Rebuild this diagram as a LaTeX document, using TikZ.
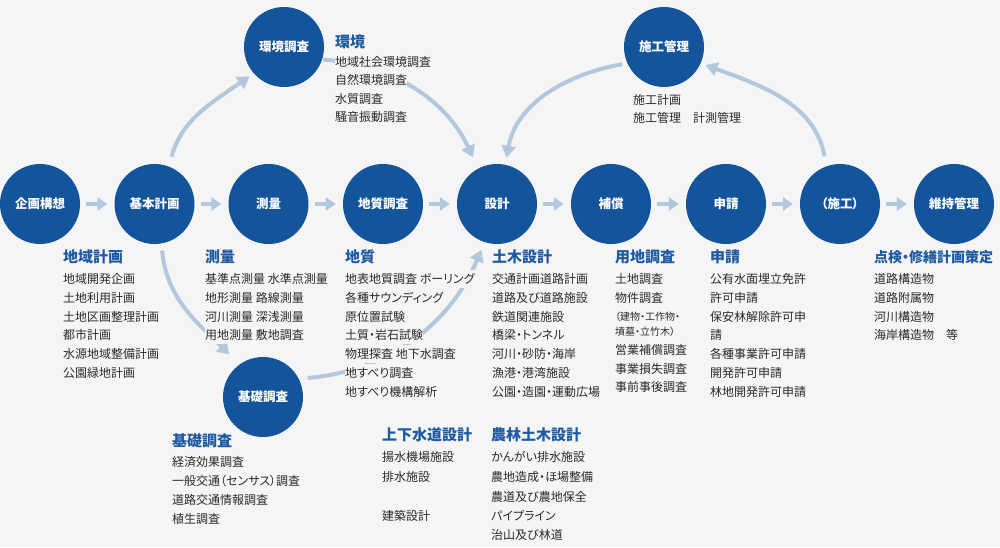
\documentclass[tikz,border=0pt]{standalone}
\usepackage{fontspec}
\setmainfont{Noto Sans CJK JP}[RawFeature=+palt]
\usetikzlibrary{arrows.meta}
\definecolor{bg}{HTML}{F5F5F5}
\definecolor{circc}{HTML}{14549A}
\definecolor{headc}{HTML}{1E5AA2}
\definecolor{bodyc}{HTML}{2A2A2A}
\definecolor{arrc}{HTML}{B3C8DD}
\tikzset{
  stage/.style={circle, fill=circc, minimum size=80pt, inner sep=0pt, text=white,
    font=\fontsize{12.5}{14}\selectfont\bfseries},
  head/.style={anchor=west, inner sep=0pt, text=headc,
    font=\fontsize{15}{18}\selectfont\bfseries, text height=13.2pt, text depth=1.8pt},
  body/.style={anchor=west, inner sep=0pt, text=bodyc, fill=bg,
    font=\fontsize{12}{14}\selectfont, text height=13.5pt, text depth=4.5pt},
  smallbody/.style={body, font=\fontsize{10}{12}\selectfont, text height=8.8pt, text depth=1.2pt},
  harrow/.style={draw=arrc, line width=4pt, -{Triangle[length=10pt,width=13pt]},
    shorten <=6pt, shorten >=7pt},
  carrow/.style={draw=arrc, line width=4pt, -{Triangle[length=12pt,width=14pt]}},
}
\newcommand\bodylines[3]{%
  \foreach \txt/\yy [count=\i] in {#3} {\node[body] (#1\i) at (#2,\yy) {\txt};}}
\begin{document}
\begin{tikzpicture}[x=1pt,y=1pt]
\useasboundingbox (0,0) rectangle (1000,547);
\fill[bg] (0,0) rectangle (1000,547);

% stages
\node[stage] (kikaku)    at (40,343)    {企画構想};
\node[stage] (kihon)     at (154.5,343) {基本計画};
\node[stage] (sokuryo)   at (268.5,343) {測量};
\node[stage] (chishitsu) at (383,343)   {地質調査};
\node[stage] (sekkei)    at (497,343)   {設計};
\node[stage] (hosho)     at (611,343)   {補償};
\node[stage] (shinsei)   at (726,343)   {申請};
\node[stage] (seko)      at (840,343)   {（施工）};
\node[stage] (iji)       at (954,343)   {維持管理};
\node[stage] (kankyo)    at (284,500)   {環境調査};
\node[stage] (sk)        at (664,500)   {施工管理};
\node[stage] (kiso)      at (263,150)   {基礎調査};

% connectors (drawn under the circles)
\begin{scope}[on background layer/.try]
\end{scope}
\draw[harrow] (kikaku) -- (kihon);
\draw[harrow] (kihon) -- (sokuryo);
\draw[harrow] (sokuryo) -- (chishitsu);
\draw[harrow] (chishitsu) -- (sekkei);
\draw[harrow] (sekkei) -- (hosho);
\draw[harrow] (hosho) -- (shinsei);
\draw[harrow] (shinsei) -- (seko);
\draw[harrow] (seko) -- (iji);

\draw[carrow, shorten <=10pt, shorten >=5pt] (kihon.69) to[out=75,in=215] (kankyo.221);
\draw[carrow, shorten <=1pt, shorten >=12pt] (kankyo.-18) to[out=-5,in=115] (sekkei.118);
\draw[carrow, shorten <=5pt, shorten >=7pt] (sk.204) to[out=190,in=80] (sekkei.78);
\draw[carrow, shorten <=10pt, shorten >=5pt] (seko.110) to[out=100,in=-20] (sk.-24);
\draw[carrow, shorten <=7pt, shorten >=14pt] (kihon.-80) to[out=-85,in=135] (kiso.126);
\draw[carrow, shorten <=9pt, shorten >=8pt] (kiso.27) to[out=5,in=247] (sekkei.252);

% headings
\node[head] (h1)  at (63,290)  {地域計画};
\node[head] (h2)  at (205,290) {測量};
\node[head] (h3)  at (345,290) {地質};
\node[head] (h4)  at (492,290) {土木設計};
\node[head] (h5)  at (615,290) {用地調査};
\node[head] (h6)  at (710,290) {申請};
\node[head, font=\fontsize{14}{16}\selectfont\bfseries] (h7) at (874,290) {点検・修繕計画策定};
\node[head] (h8)  at (335,505) {環境};
\node[head] (h9)  at (172,106) {基礎調査};
\node[head] (h10) at (382,112) {上下水道設計};
\node[head] (h11) at (491,112) {農林土木設計};

% bodies
\bodylines{a}{63}{地域開発企画/268, 土地利用計画/249.2, 土地区画整理計画/230.4, 都市計画/211.6, 水源地域整備計画/192.8, 公園緑地計画/174}
\bodylines{b}{205}{基準点測量 水準点測量/268, 地形測量 路線測量/249.2, 河川測量 深浅測量/230.4, 用地測量 敷地調査/211.6}
\bodylines{c}{345}{地表地質調査 ボーリング/268, 各種サウンディング/249.2, 原位置試験/230.4, 土質・岩石試験/211.6, 物理探査 地下水調査/192.8, 地すべり調査/174, 地すべり機構解析/155.2}
\bodylines{d}{492}{交通計画道路計画/268, 道路及び道路施設/249.2, 鉄道関連施設/230.4, 橋梁・トンネル/211.6, 河川・砂防・海岸/192.8, 漁港・港湾施設/174, 公園・造園・運動広場/155.2}
\bodylines{e}{615}{土地調査/268, 物件調査/249.2, 営業補償調査/197, 事業損失調査/178.5, 事前事後調査/160}
\node[smallbody] (es1) at (615,230) {（建物・工作物・};
\node[smallbody] (es2) at (615,215) {墳墓・立竹木）};
\bodylines{f}{710}{公有水面埋立免許/268, 許可申請/249.2, 保安林解除許可申/230.4, 請/211.6, 各種事業許可申請/192.8, 開発許可申請/174, 林地開発許可申請/155.2}
\bodylines{g}{874}{道路構造物/268, 道路附属物/249.2, 河川構造物/230.4, 海岸構造物\hspace{1em}等/211.6}
\bodylines{k}{335}{地域社会環境調査/485, 自然環境調査/466.5, 水質調査/448, 騒音振動調査/429.5}
\bodylines{m}{633}{施工計画/447, 施工管理\hspace{1em}計測管理/429}
\bodylines{n}{172}{経済効果調査/85, 一般交通（センサス）調査/66, 道路交通情報調査/47, 植生調査/28}
\bodylines{p}{382}{揚水機場施設/90, 排水施設/70, 建築設計/31}
\bodylines{q}{491}{かんがい排水施設/90, 農地造成・ほ場整備/70, 農道及び農地保全/50, パイプライン/31, 治山及び林道/12}
\end{tikzpicture}
\end{document}
